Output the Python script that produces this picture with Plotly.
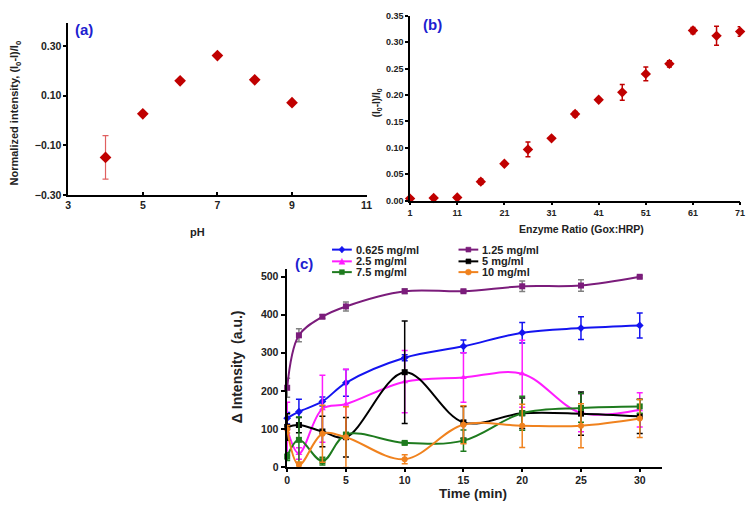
import plotly.graph_objects as go

# ---------------- data ----------------
ph = [4, 5, 6, 7, 8, 9]
ph_norm = [-0.149, 0.027, 0.160, 0.262, 0.164, 0.072]
ph_err = [0.088, 0.004, 0.004, 0.004, 0.004, 0.004]

ratio = [1, 6, 11, 16, 21, 26, 31, 36, 41, 46, 51, 56, 61, 66, 71]
ratio_resp = [0.004, 0.005, 0.006, 0.036, 0.070, 0.097, 0.118, 0.164, 0.191,
              0.205, 0.240, 0.259, 0.322, 0.312, 0.320]
ratio_err = [0.003, 0.003, 0.003, 0.005, 0.003, 0.014, 0.003, 0.005, 0.003,
             0.015, 0.013, 0.006, 0.006, 0.018, 0.009]

time_min = [0, 1, 3, 5, 10, 15, 20, 25, 30]
series_names = ["0.625 mg/ml", "1.25 mg/ml", "2.5 mg/ml", "5 mg/ml", "7.5 mg/ml", "10 mg/ml"]
s0625 = [128, 145, 172, 221, 287, 317, 353, 365, 372]
e0625 = [15, 33, 12, 35, 8, 17, 27, 30, 33]
s125 = [208, 346, 395, 422, 462, 462, 475, 477, 500]
e125 = [25, 17, 5, 12, 6, 3, 14, 15, 3]
s25 = [100, 35, 153, 165, 224, 235, 245, 142, 150]
e25 = [70, 15, 88, 92, 82, 65, 88, 50, 45]
s5 = [105, 110, 93, 78, 249, 117, 141, 140, 133]
e5 = [35, 20, 40, 52, 135, 42, 40, 57, 45]
s75 = [27, 71, 15, 85, 63, 69, 141, 155, 159]
e75 = [10, 60, 10, 5, 4, 28, 45, 38, 18]
s10 = [99, 5, 87, 78, 20, 111, 108, 108, 127]
e10 = [10, 8, 75, 80, 12, 50, 57, 58, 50]

# ---------------- styles ----------------
W, H = 756, 511
FONT = "Liberation Sans, Arial"
DARKRED = "#C00000"
colors = ["#1414F0", "#7B1C7B", "#FF1CFF", "#000000", "#1E7B1E", "#F0821E"]
err_colors = ["#1414F0", "#808080", "#FF1CFF", "#000000", "#1E7B1E", "#F0821E"]
symbols = ["diamond", "square", "triangle-up", "square", "square", "circle"]
values = [s0625, s125, s25, s5, s75, s10]
errors = [e0625, e125, e25, e5, e75, e10]


def px(x):
    return x / W


def py(y):
    return 1 - y / H


fig = go.Figure()

# panel (a)
fig.add_trace(go.Scatter(
    x=ph, y=ph_norm, mode="markers", xaxis="x", yaxis="y", cliponaxis=False,
    marker=dict(symbol="diamond", size=9, color=DARKRED),
    error_y=dict(type="data", array=ph_err, color="#E06060", thickness=1.2, width=3),
    showlegend=False))

# panel (b)
fig.add_trace(go.Scatter(
    x=ratio, y=ratio_resp, mode="markers", xaxis="x2", yaxis="y2", cliponaxis=False,
    marker=dict(symbol="diamond", size=8, color=DARKRED),
    error_y=dict(type="data", array=ratio_err, color=DARKRED, thickness=1.5, width=2.5),
    showlegend=False))

# panel (c)
for name, v, e, c, ec, s in zip(series_names, values, errors, colors, err_colors, symbols):
    fig.add_trace(go.Scatter(
        x=time_min, y=v, mode="lines+markers", xaxis="x3", yaxis="y3", name=name,
        cliponaxis=False,
        line=dict(color=c, width=2, shape="spline", smoothing=1.0),
        marker=dict(symbol=s, size=6, color=c),
        error_y=dict(type="data", array=e, color=ec, thickness=1.5, width=3),
        showlegend=False))

tickfont_a = dict(family=FONT, size=10.5, color="#222", weight="bold")
tickfont_b = dict(family=FONT, size=9, color="#222", weight="bold")
tickfont_c = dict(family=FONT, size=10.5, color="#222", weight="bold")
axis_common = dict(showgrid=False, zeroline=False, showline=True, linecolor="black",
                   tickcolor="black", mirror=False)

fig.update_layout(
    width=W, height=H, margin=dict(l=0, r=0, t=0, b=0),
    paper_bgcolor="white", plot_bgcolor="rgba(0,0,0,0)",
    font=dict(family=FONT),
    xaxis=dict(domain=[px(66), px(368)], range=[3, 11], tickvals=[3, 5, 7, 9, 11],
               ticks="inside", ticklen=3,
               anchor="y", linewidth=1.5, tickwidth=1.5, tickfont=tickfont_a, **axis_common),
    yaxis=dict(domain=[py(194), py(18)], range=[-0.3, 0.395],
               tickvals=[-0.3, -0.1, 0.1, 0.3], tickformat=".2f",
               ticks="outside", ticklen=3,
               anchor="x", linewidth=1.5, tickwidth=1.5, tickfont=tickfont_a, **axis_common),
    xaxis2=dict(domain=[px(412), px(746)], range=[1, 71], tickvals=list(range(1, 72, 10)),
                ticks="outside", ticklen=3,
                anchor="y2", linewidth=1.5, tickwidth=1.5, tickfont=tickfont_b, **axis_common),
    yaxis2=dict(domain=[py(200), py(11)], range=[0, 0.35], dtick=0.05, tickformat=".2f",
                ticks="outside", ticklen=3,
                anchor="x2", linewidth=1.5, tickwidth=1.5, tickfont=tickfont_b, **axis_common),
    xaxis3=dict(domain=[px(287), px(667)], range=[-0.05, 31.9], tickvals=[0, 5, 10, 15, 20, 25, 30],
                ticks="outside", ticklen=3,
                anchor="y3", linewidth=2, tickwidth=2, tickfont=tickfont_c, **axis_common),
    yaxis3=dict(domain=[py(472), py(270)], range=[0, 520], tickvals=[0, 100, 200, 300, 400, 500],
                ticks="outside", ticklen=4,
                anchor="x3", linewidth=2, tickwidth=2, tickfont=tickfont_c, **axis_common),
)

ann = []


def add_text(text, x, y, size, color="#222", rot=0, xanchor="center"):
    ann.append(dict(text=text, x=px(x), y=py(y), xref="paper", yref="paper",
                    showarrow=False, textangle=rot, xanchor=xanchor, yanchor="middle",
                    font=dict(family=FONT, size=size, color=color, weight="bold")))


# panel labels
add_text("(a)", 82, 25, 15, color="#2020D0")
add_text("(b)", 435, 20, 15, color="#2020D0")
add_text("(c)", 305, 264, 15, color="#2020D0")
# axis titles
add_text("Normalized intensity, (I<sub>0</sub>-I)/I<sub>0</sub>", 12, 110, 11, rot=-90)
add_text("pH", 197, 232, 11)
add_text("(I<sub>0</sub>-I)/I<sub>0</sub>", 378, 100, 10, rot=-90)
add_text("Enzyme Ratio (Gox:HRP)", 585, 229, 10.5)
add_text("\u0394 Intensity  (a.u.)", 237, 370, 14, rot=-90)
add_text("Time (min)", 476, 499, 13.5)

# manual compact legend
shapes = []
legend_pos = [(333, 250), (461, 250), (333, 262), (461, 262), (333, 273), (461, 273)]
for (lx, ly), name, c, s in zip(legend_pos, series_names, colors, symbols):
    shapes.append(dict(type="line", xref="paper", yref="paper",
                       x0=px(lx), x1=px(lx + 20), y0=py(ly), y1=py(ly),
                       line=dict(color=c, width=2)))
    cx, cy, r = lx + 10, ly, 3
    if s == "diamond":
        path = f"M {px(cx)},{py(cy - r - 0.5)} L {px(cx + r)},{py(cy)} L {px(cx)},{py(cy + r + 0.5)} L {px(cx - r)},{py(cy)} Z"
        shapes.append(dict(type="path", xref="paper", yref="paper", path=path,
                           fillcolor=c, line=dict(color=c, width=0.5)))
    elif s == "triangle-up":
        path = f"M {px(cx)},{py(cy - r)} L {px(cx + r)},{py(cy + r)} L {px(cx - r)},{py(cy + r)} Z"
        shapes.append(dict(type="path", xref="paper", yref="paper", path=path,
                           fillcolor=c, line=dict(color=c, width=0.5)))
    elif s == "circle":
        shapes.append(dict(type="circle", xref="paper", yref="paper",
                           x0=px(cx - r), x1=px(cx + r), y0=py(cy - r), y1=py(cy + r),
                           fillcolor=c, line=dict(color=c, width=0.5)))
    else:
        shapes.append(dict(type="rect", xref="paper", yref="paper",
                           x0=px(cx - r + 0.5), x1=px(cx + r - 0.5), y0=py(cy - r + 0.5), y1=py(cy + r - 0.5),
                           fillcolor=c, line=dict(color=c, width=0.5)))
    add_text(name, lx + 22, ly, 11, xanchor="left")

fig.update_layout(annotations=ann, shapes=shapes)

fig.write_html("out.html", config={"displayModeBar": False},
               post_script="document.body.style.margin='0';document.body.style.overflow='hidden';")
